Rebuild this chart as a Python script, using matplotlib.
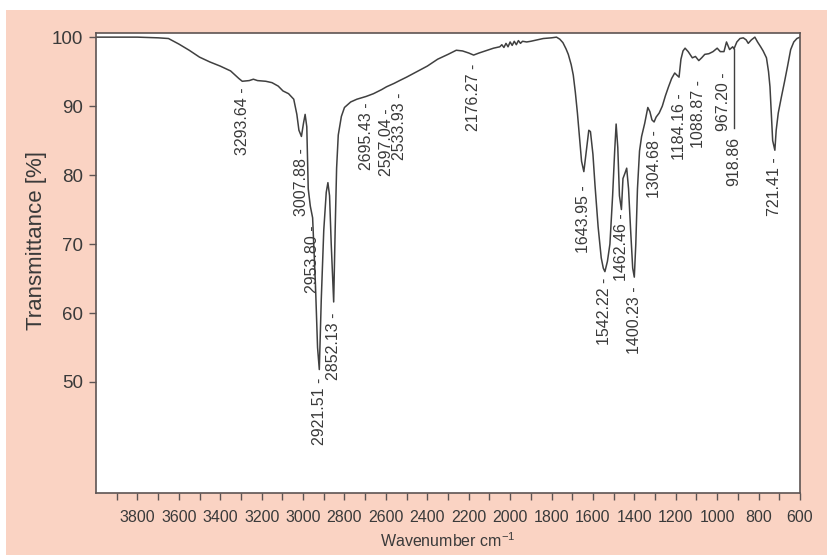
import matplotlib
matplotlib.use("Agg")
import matplotlib.pyplot as plt
from matplotlib import font_manager as fm
from matplotlib.patches import Rectangle
from matplotlib.ticker import FixedLocator


def pick_font(names):
    for n in names:
        try:
            fm.findfont(n, fallback_to_default=False)
            return n
        except Exception:
            continue
    return "DejaVu Sans"


REG = pick_font(["Liberation Sans", "Arial", "DejaVu Sans"])
NARROW = pick_font(["Liberation Sans Narrow", "Arial Narrow", REG])
NARROW_SIZE = 13.5 if NARROW != REG else 11.5

# IR spectrum: wavenumber (cm-1) and transmittance (%)
wavenumber = [
    4000, 3800, 3700, 3650, 3600, 3550, 3500, 3450, 3400, 3350, 3310, 3293.64,
    3260, 3240, 3220, 3180, 3150, 3120, 3097, 3070, 3045, 3030, 3020, 3007.88,
    2998, 2990, 2982, 2975, 2965, 2953.80, 2940, 2930, 2921.51, 2912, 2900,
    2888, 2880, 2872, 2864, 2852.13, 2845, 2838, 2830, 2815, 2800, 2770, 2740,
    2695.43, 2660, 2620, 2597.04, 2560, 2533.93, 2500, 2450, 2400, 2350, 2300,
    2260, 2230, 2200, 2176.27, 2150, 2120, 2080, 2050, 2040, 2030, 2020, 2010,
    2000, 1990, 1980, 1970, 1960, 1950, 1940, 1920, 1900, 1870, 1840, 1800,
    1776, 1760, 1745, 1730, 1719, 1705, 1695, 1685, 1675, 1665, 1655, 1643.95,
    1632, 1620, 1612, 1600, 1590, 1575, 1560, 1550, 1542.22, 1530, 1518, 1505,
    1495, 1488, 1480, 1472, 1462.46, 1455, 1445, 1437, 1428, 1418, 1408,
    1400.23, 1393, 1385, 1375, 1365, 1350, 1335, 1325, 1315, 1304.68, 1295,
    1280, 1265, 1250, 1235, 1220, 1205, 1195, 1184.16, 1175, 1165, 1155, 1140,
    1120, 1105, 1088.87, 1075, 1060, 1040, 1020, 1000, 985, 967.20, 955, 940,
    925, 918.86, 905, 890, 874, 860, 850, 835, 818, 805, 790, 778, 762, 752,
    745, 738, 732, 721.41, 715, 705, 690, 675, 660, 645, 630, 615, 600,
]
transmittance = [
    100.0, 100.0, 99.9, 99.8, 99.0, 98.1, 97.1, 96.4, 95.8, 95.1, 94.0, 93.6,
    93.7, 93.9, 93.7, 93.6, 93.4, 92.9, 92.2, 91.8, 91.0, 88.8, 86.5, 85.6,
    87.5, 88.8, 87.0, 78.0, 75.5, 73.8, 64.0, 55.0, 51.8, 62.0, 72.0,
    77.5, 78.9, 77.0, 70.0, 61.6, 72.0, 81.0, 85.8, 88.5, 89.8, 90.6, 91.0,
    91.4, 91.8, 92.4, 92.8, 93.3, 93.7, 94.2, 95.0, 95.8, 96.8, 97.5,
    98.1, 98.0, 97.7, 97.4, 97.7, 98.0, 98.4, 98.6, 98.9, 98.5, 99.1, 98.6,
    99.3, 98.8, 99.4, 98.9, 99.5, 99.1, 99.4, 99.3, 99.4, 99.6, 99.8, 99.9,
    100.0, 99.7, 99.2, 98.3, 97.5, 96.0, 94.5, 92.0, 89.0, 85.5, 82.0, 80.5,
    83.5, 86.5, 86.3, 83.0, 78.5, 72.5, 68.0, 66.5, 66.0, 67.5, 70.0, 77.0,
    83.5, 87.4, 84.0, 77.0, 75.0, 79.5, 80.3, 81.0, 78.0, 72.0, 66.5,
    65.2, 70.0, 78.0, 83.5, 85.6, 87.5, 89.8, 89.2, 88.0, 87.7, 88.4,
    89.0, 90.0, 91.5, 92.8, 94.0, 94.8, 94.5, 94.2, 96.8, 98.0, 98.4, 97.9,
    97.0, 97.2, 96.6, 97.0, 97.5, 97.6, 97.9, 98.4, 97.9, 97.9, 99.3, 98.2,
    98.6, 98.3, 99.3, 99.8, 99.9, 99.6, 99.1, 99.6, 100.0, 99.3, 98.6, 98.0,
    97.0, 95.0, 92.8, 88.5, 85.0, 83.6, 86.5, 89.0, 91.3, 93.5, 95.8, 98.2,
    99.3, 99.8, 100.0,
]

# Annotated band positions and the level where each label starts
peak_labels = [
    "3293.64", "3007.88", "2953.80", "2921.51", "2852.13", "2695.43",
    "2597.04", "2533.93", "2176.27", "1643.95", "1542.22", "1462.46",
    "1400.23", "1304.68", "1184.16", "1088.87", "967.20", "918.86", "721.41",
]
label_top = [
    92.75, 83.9, 72.75, 50.7, 60.0, 90.6,
    89.7, 92.0, 96.2, 78.55, 65.1, 74.5,
    63.8, 86.5, 91.9, 93.8, 94.9, 85.5, 82.6,
]

x_major = [3800, 3600, 3400, 3200, 3000, 2800, 2600, 2400, 2200, 2000,
           1800, 1600, 1400, 1200, 1000, 800, 600]
x_minor = [3900, 3700, 3500, 3300, 3100, 2900, 2700, 2500, 2300, 2100,
           1900, 1700, 1500, 1300, 1100, 900, 700]
y_ticks = [50, 60, 70, 80, 90, 100]

PEACH = "#FAD3C3"
INK = "#3a3a3a"
FRAME = "#5d5453"

W, H = 828, 555
fig = plt.figure(figsize=(W / 100, H / 100), dpi=100)
fig.patch.set_facecolor("white")
fig.add_artist(Rectangle((6 / W, 0), 1 - 6 / W, (H - 10) / H,
                         transform=fig.transFigure, facecolor=PEACH,
                         edgecolor="none", zorder=0))

ax = fig.add_axes([96 / W, 62 / H, 704 / W, 460 / H])
ax.set_facecolor("white")
ax.plot(wavenumber, transmittance, color="#404040", lw=1.1)

ax.set_xlim(4000, 600)
ax.set_ylim(33.9, 100.6)

ax.xaxis.set_major_locator(FixedLocator(x_major))
ax.xaxis.set_minor_locator(FixedLocator(x_minor))
ax.yaxis.set_major_locator(FixedLocator(y_ticks))
ax.set_xticklabels([str(v) for v in x_major], fontfamily=NARROW,
                   fontsize=NARROW_SIZE, color=INK)
ax.set_yticklabels([str(v) for v in y_ticks], fontfamily=REG,
                   fontsize=13.5, color=INK)
ax.tick_params(axis="both", which="both", direction="out", length=5,
               width=1, color=FRAME)
ax.tick_params(axis="x", which="both", pad=7)
ax.tick_params(axis="y", pad=4)
for s in ax.spines.values():
    s.set_color(FRAME)
    s.set_linewidth(1.2)

plt.rcParams["mathtext.fontset"] = "custom"
plt.rcParams["mathtext.rm"] = NARROW
ax.set_xlabel(r"Wavenumber cm$^{\mathregular{-1}}$", fontfamily=NARROW,
              fontsize=NARROW_SIZE, color=INK, labelpad=5)
ax.set_ylabel("Transmittance [%]", fontfamily=REG, fontsize=16, color=INK)
ax.yaxis.set_label_coords(-0.07, 0.55)

for lab, top in zip(peak_labels, label_top):
    w = float(lab)
    if lab == "918.86":
        # long leader line from the label up to the trace
        t_curve = transmittance[wavenumber.index(918.86)]
        ax.plot([w, w], [top + 1.3, t_curve], color="#404040", lw=1.0)
        ax.text(w, top, lab, rotation=90, ha="center", va="top",
                fontfamily=NARROW, fontsize=NARROW_SIZE, color=INK)
    else:
        ax.text(w, top, lab + " -", rotation=90, ha="center", va="top",
                fontfamily=NARROW, fontsize=NARROW_SIZE, color=INK)

fig.savefig("out.png", dpi=100, facecolor=fig.get_facecolor())
